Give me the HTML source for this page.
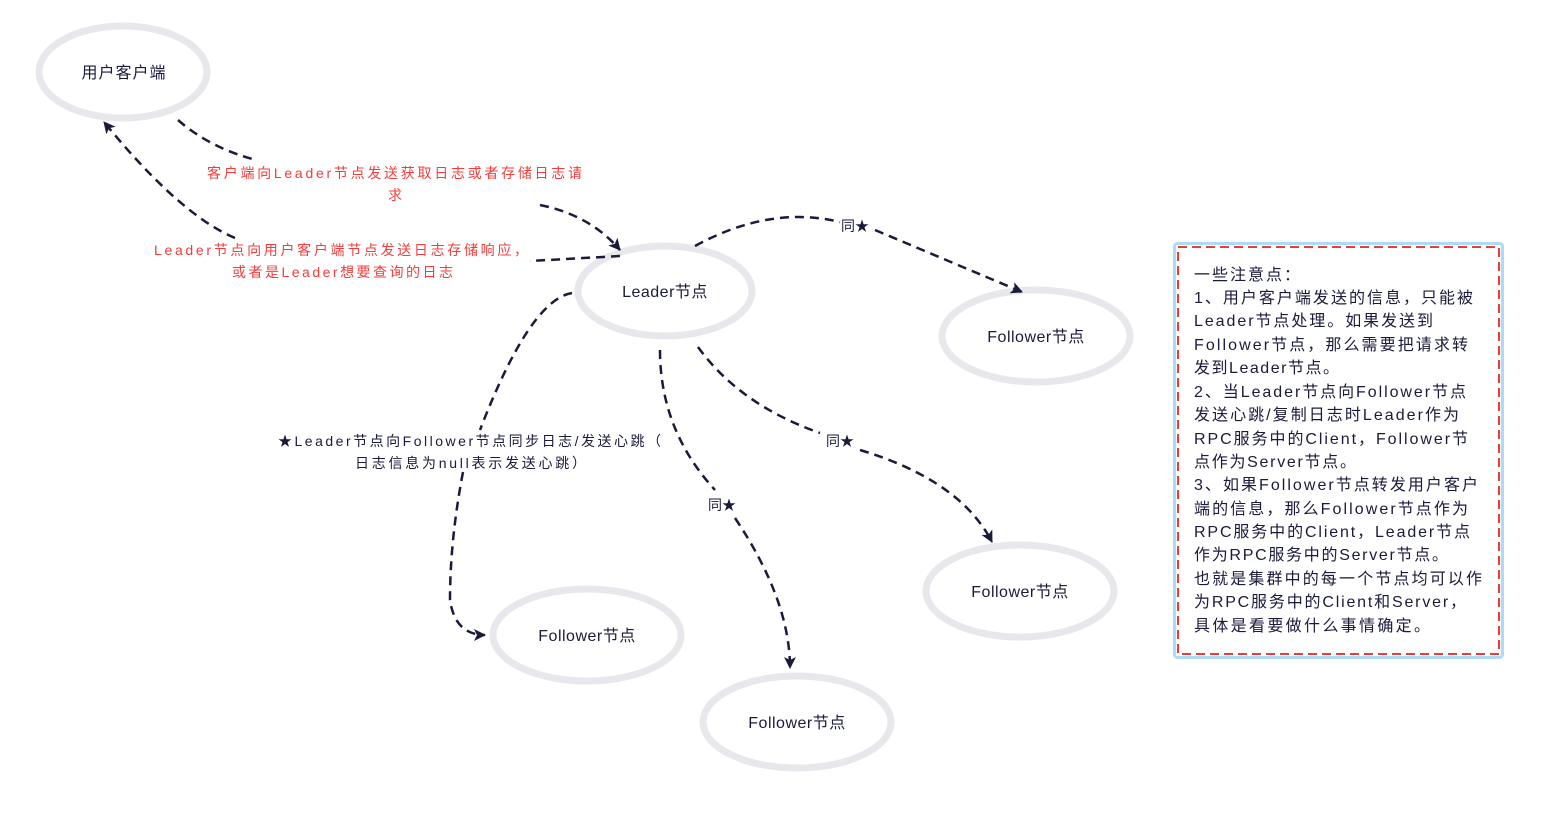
<!DOCTYPE html>
<html><head><meta charset="utf-8"><style>
html,body{margin:0;padding:0;background:#fff;}
svg{display:block;}
text{font-family:"Liberation Sans","Noto Sans CJK SC",sans-serif;}
</style></head><body>
<svg width="1547" height="825" viewBox="0 0 1547 825" xmlns="http://www.w3.org/2000/svg">
<defs>
<marker id="a" markerWidth="14" markerHeight="14" refX="11" refY="6" orient="auto" markerUnits="userSpaceOnUse">
<path d="M0,0 L12,6 L0,12 L3,6 Z" fill="#1a1a3a"/></marker>
</defs>
<g fill="none" stroke="#e8e7eb" stroke-width="7">
<ellipse cx="123" cy="72" rx="84" ry="46"/>
<ellipse cx="665" cy="291" rx="87" ry="45"/>
<ellipse cx="1036" cy="336" rx="94" ry="46"/>
<ellipse cx="1020" cy="591" rx="94" ry="46"/>
<ellipse cx="797" cy="722" rx="94" ry="46"/>
<ellipse cx="587" cy="635" rx="94" ry="46"/>
</g>
<g fill="#1a1a3a" font-size="16" text-anchor="middle">
<text x="124" y="78" letter-spacing="1">用户客户端</text>
<text x="665" y="297" letter-spacing="0.5">Leader节点</text>
<text x="1036" y="342" letter-spacing="0.5">Follower节点</text>
<text x="1020" y="597" letter-spacing="0.5">Follower节点</text>
<text x="797" y="728" letter-spacing="0.5">Follower节点</text>
<text x="587" y="641" letter-spacing="0.5">Follower节点</text>
</g>
<g fill="none" stroke="#1a1a3a" stroke-width="2.5" stroke-dasharray="9 6">
<path d="M178,120 Q210,148 256,160"/>
<path d="M540,205 Q590,215 620,250" marker-end="url(#a)"/>
<path d="M620,256 L530,261"/>
<path d="M235,238 Q180,215 104,122" marker-end="url(#a)"/>
<path d="M695,246 Q770,205 840,222"/>
<path d="M875,230 L1022,292" marker-end="url(#a)"/>
<path d="M572,293 Q530,300 480,430"/>
<path d="M463,472 Q450,540 450,600 Q455,635 485,635" marker-end="url(#a)"/>
<path d="M660,350 Q660,430 715,490"/>
<path d="M735,518 Q790,600 790,668" marker-end="url(#a)"/>
<path d="M698,347 Q740,405 820,433"/>
<path d="M860,450 Q960,480 992,542" marker-end="url(#a)"/>
</g>
<g fill="#f63c3a" font-size="14">
<text x="207" y="178" textLength="375" lengthAdjust="spacing">客户端向Leader节点发送获取日志或者存储日志请</text>
<text x="395" y="200" text-anchor="middle">求</text>
<text x="154" y="255" textLength="374" lengthAdjust="spacing">Leader节点向用户客户端节点发送日志存储响应，</text>
<text x="232" y="277" textLength="221" lengthAdjust="spacing">或者是Leader想要查询的日志</text>
</g>
<g fill="#1a1a3a" font-size="14">
<text x="278" y="446" textLength="383" lengthAdjust="spacing">★Leader节点向Follower节点同步日志/发送心跳（</text>
<text x="355" y="468" textLength="231" lengthAdjust="spacing">日志信息为null表示发送心跳）</text>
<text x="841" y="231">同★</text>
<text x="826" y="446">同★</text>
<text x="708" y="510">同★</text>
</g>
<rect x="1174.5" y="243.5" width="328" height="414" rx="3" fill="#fff" stroke="#a9dcf5" stroke-width="3"/>
<rect x="1178" y="247" width="321" height="407" fill="none" stroke="#f03a3a" stroke-width="2" stroke-dasharray="9 5"/>
<g fill="#1a1a3a" font-size="16">
<text x="1194" y="280" letter-spacing="2">一些注意点：</text>
<text x="1194" y="303" textLength="279" lengthAdjust="spacing">1、用户客户端发送的信息，只能被</text>
<text x="1194" y="326" textLength="239" lengthAdjust="spacing">Leader节点处理。如果发送到</text>
<text x="1194" y="350" textLength="274" lengthAdjust="spacing">Follower节点，那么需要把请求转</text>
<text x="1194" y="373" textLength="145" lengthAdjust="spacing">发到Leader节点。</text>
<text x="1194" y="397" textLength="272" lengthAdjust="spacing">2、当Leader节点向Follower节点</text>
<text x="1194" y="420" textLength="265" lengthAdjust="spacing">发送心跳/复制日志时Leader作为</text>
<text x="1194" y="444" textLength="274" lengthAdjust="spacing">RPC服务中的Client，Follower节</text>
<text x="1194" y="467" textLength="162" lengthAdjust="spacing">点作为Server节点。</text>
<text x="1194" y="490" textLength="284" lengthAdjust="spacing">3、如果Follower节点转发用户客户</text>
<text x="1194" y="514" textLength="274" lengthAdjust="spacing">端的信息，那么Follower节点作为</text>
<text x="1194" y="537" textLength="276" lengthAdjust="spacing">RPC服务中的Client，Leader节点</text>
<text x="1194" y="560" textLength="254" lengthAdjust="spacing">作为RPC服务中的Server节点。</text>
<text x="1194" y="584" textLength="288" lengthAdjust="spacing">也就是集群中的每一个节点均可以作</text>
<text x="1194" y="607" textLength="272" lengthAdjust="spacing">为RPC服务中的Client和Server，</text>
<text x="1194" y="631" textLength="236" lengthAdjust="spacing">具体是看要做什么事情确定。</text>
</g>
</svg>
</body></html>
